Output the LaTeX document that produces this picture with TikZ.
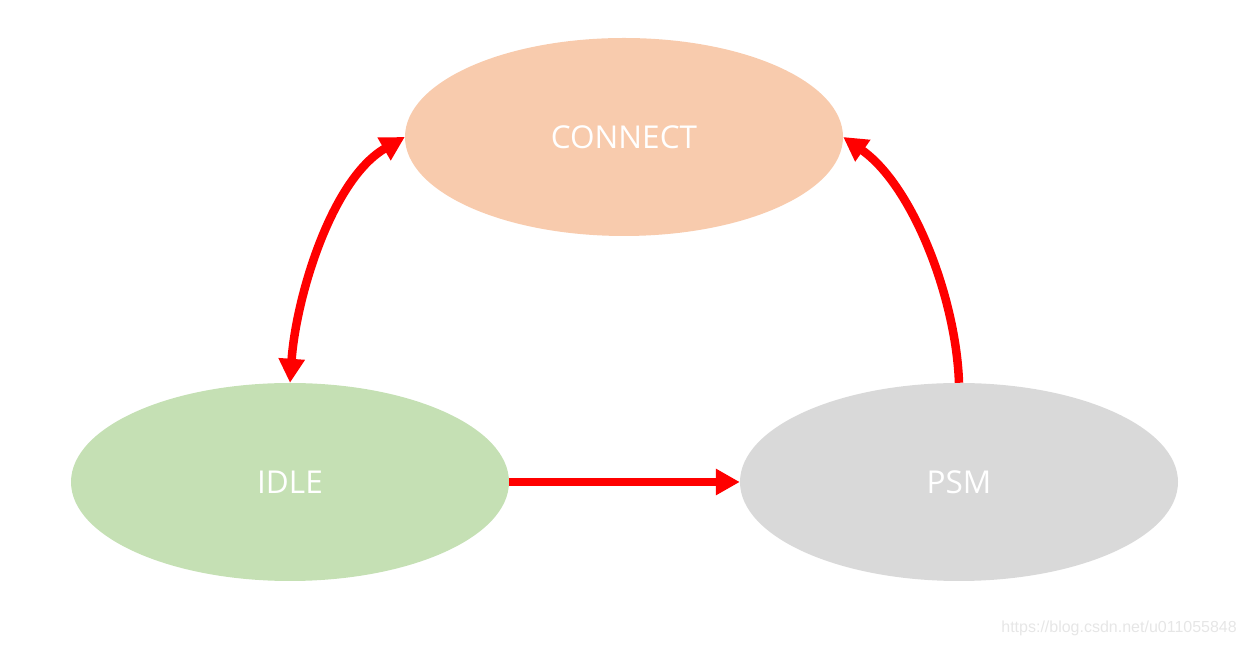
\documentclass[tikz,border=0pt]{standalone}
\usepackage{fontspec}
\setmainfont{Open Sans}
\newfontfamily\wmfont{Liberation Sans}
\usetikzlibrary{shapes.geometric,arrows.meta}
\definecolor{cpeach}{HTML}{F8CBAD}
\definecolor{cgreen}{HTML}{C5E0B4}
\definecolor{cgray}{HTML}{D9D9D9}
\definecolor{cwm}{HTML}{E6E6E6}
\tikzset{
  state/.style={ellipse, draw=none, minimum width=438pt, minimum height=198pt, inner sep=0pt,
    text=white, font=\fontsize{31.5}{36}\selectfont},
  tip/.tip={Triangle[length=24pt,width=25pt]},
  conn/.style={draw=red, line width=8.5pt, -tip},
  dconn/.style={draw=red, line width=8.5pt, tip-tip},
}
\begin{document}
\begin{tikzpicture}[x=1pt,y=1pt]
\useasboundingbox (0,0) rectangle (1245,647);
\node[state, fill=cpeach] (connect) at (624,510) {CONNECT};
\node[state, fill=cgreen] (idle) at (290,165) {IDLE};
\node[state, fill=cgray] (psm) at (959,165) {PSM};
\draw[dconn] (idle.north) to[out=86,in=210,looseness=0.8] (connect.west);
\draw[conn] (psm.north) to[out=92,in=-35,looseness=0.8] (connect.east);
\draw[conn] (idle.east) -- (psm.west);
\node[anchor=east, text=cwm, font=\wmfont\fontsize{16}{19}\selectfont, inner sep=0pt] (wm) at (1237,19) {https://blog.csdn.net/u011055848};
\end{tikzpicture}
\end{document}
